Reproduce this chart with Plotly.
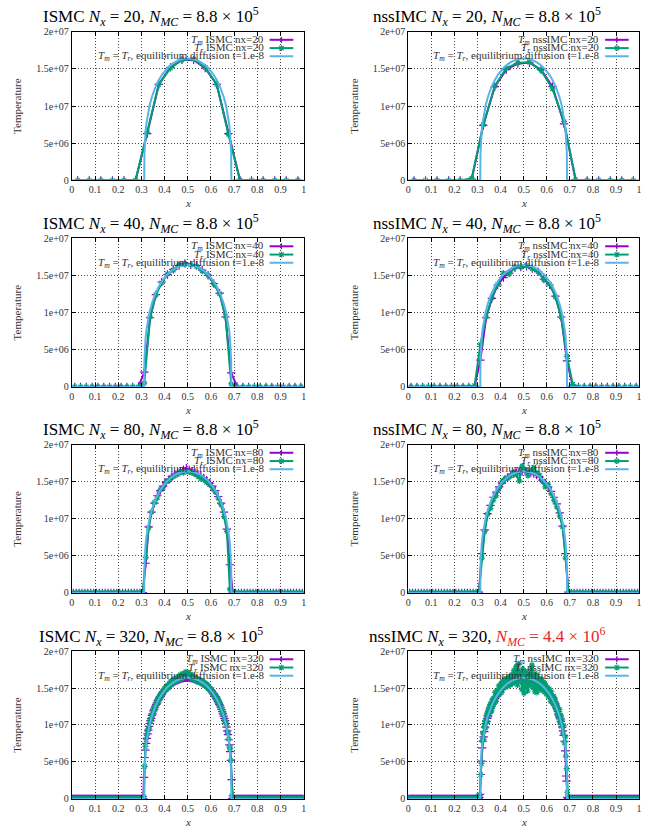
import plotly.graph_objects as go

# ---------------- data (temperatures in units of 1e6 K) ----------------
x20 = [0.025, 0.075, 0.125, 0.175, 0.225, 0.275, 0.325, 0.375, 0.425, 0.475,
       0.525, 0.575, 0.625, 0.675, 0.725, 0.775, 0.825, 0.875, 0.925, 0.975]
tm_ismc_20 = [0, 0, 0, 0, 0, 0.05, 6.3, 12.9, 15.2, 16.2, 16.2, 15.1, 12.9, 6.3, 0.05, 0, 0, 0, 0, 0]
tr_ismc_20 = [0, 0, 0, 0, 0, 0.05, 6.5, 12.9, 15.1, 16.2, 16.3, 15.2, 12.9, 6.2, 0.05, 0, 0, 0, 0, 0]
tm_nss_20 = [0, 0, 0, 0, 0, 0.15, 7.4, 12.6, 14.9, 15.7, 15.8, 14.9, 12.6, 7.6, 0.1, 0, 0, 0, 0, 0]
tr_nss_20 = [0, 0, 0, 0, 0, 0.3, 7.5, 12.7, 15.1, 15.8, 15.9, 14.8, 12.3, 7.9, 0.1, 0, 0, 0, 0, 0]

x40 = [0.0125, 0.0375, 0.0625, 0.0875, 0.1125, 0.1375, 0.1625, 0.1875, 0.2125, 0.2375,
       0.2625, 0.2875, 0.3125, 0.3375, 0.3625, 0.3875, 0.4125, 0.4375, 0.4625, 0.4875,
       0.5125, 0.5375, 0.5625, 0.5875, 0.6125, 0.6375, 0.6625, 0.6875, 0.7125, 0.7375,
       0.7625, 0.7875, 0.8125, 0.8375, 0.8625, 0.8875, 0.9125, 0.9375, 0.9625, 0.9875]
tm_ismc_40 = [0, 0, 0, 0, 0, 0, 0, 0, 0, 0, 0,
              0.05, 2.0, 9.3, 12.4, 14.1, 15.1, 15.8, 16.3, 16.6, 16.4, 16.3, 15.7, 15.0, 13.9, 12.6, 9.4, 1.9, 0.05,
              0, 0, 0, 0, 0, 0, 0, 0, 0, 0, 0]
tr_ismc_40 = [0, 0, 0, 0, 0, 0, 0, 0, 0, 0, 0,
              0.0, 0.5, 9.4, 12.4, 14.0, 15.2, 15.7, 16.4, 16.5, 16.4, 16.2, 15.6, 15.0, 13.8, 12.5, 9.5, 0.4, 0.0,
              0, 0, 0, 0, 0, 0, 0, 0, 0, 0, 0]
tm_nss_40 = [0, 0, 0, 0, 0, 0, 0, 0, 0, 0, 0,
             0.1, 3.6, 9.3, 11.9, 13.7, 14.7, 15.3, 16.0, 16.1, 16.2, 15.9, 15.5, 14.5, 13.7, 12.2, 9.4, 3.5, 0.1,
             0, 0, 0, 0, 0, 0, 0, 0, 0, 0, 0]
tr_nss_40 = [0, 0, 0, 0, 0, 0, 0, 0, 0, 0, 0,
             0.2, 5.7, 9.4, 12.0, 13.8, 15.3, 15.2, 16.1, 16.1, 16.3, 15.9, 15.5, 14.4, 13.8, 12.1, 9.4, 4.1, 0.35,
             0, 0, 0, 0, 0, 0, 0, 0, 0, 0, 0]

x80 = [0.00625, 0.01875, 0.03125, 0.04375, 0.05625, 0.06875, 0.08125, 0.09375, 0.10625, 0.11875,
       0.13125, 0.14375, 0.15625, 0.16875, 0.18125, 0.19375, 0.20625, 0.21875, 0.23125, 0.24375,
       0.25625, 0.26875, 0.28125, 0.29375, 0.30625, 0.31875, 0.33125, 0.34375, 0.35625, 0.36875,
       0.38125, 0.39375, 0.40625, 0.41875, 0.43125, 0.44375, 0.45625, 0.46875, 0.48125, 0.49375,
       0.50625, 0.51875, 0.53125, 0.54375, 0.55625, 0.56875, 0.58125, 0.59375, 0.60625, 0.61875,
       0.63125, 0.64375, 0.65625, 0.66875, 0.68125, 0.69375, 0.70625, 0.71875, 0.73125, 0.74375,
       0.75625, 0.76875, 0.78125, 0.79375, 0.80625, 0.81875, 0.83125, 0.84375, 0.85625, 0.86875,
       0.88125, 0.89375, 0.90625, 0.91875, 0.93125, 0.94375, 0.95625, 0.96875, 0.98125, 0.99375]
tm_ismc_80 = [0, 0, 0, 0, 0, 0, 0, 0, 0, 0, 0, 0, 0, 0, 0, 0, 0, 0, 0, 0, 0, 0, 0, 0,
              0.05, 4.0, 8.9, 10.9, 12.1, 13.1, 13.8, 14.4, 14.9, 15.3, 15.7, 16.0, 16.2, 16.4, 16.6, 16.8,
              16.6, 16.4, 16.2, 16.0, 15.8, 15.5, 15.2, 14.8, 14.4, 13.8, 13.0, 12.1, 10.9, 8.6, 3.8, 0.1,
              0, 0, 0, 0, 0, 0, 0, 0, 0, 0, 0, 0, 0, 0, 0, 0, 0, 0, 0, 0, 0, 0, 0, 0]
tr_ismc_80 = [0, 0, 0, 0, 0, 0, 0, 0, 0, 0, 0, 0, 0, 0, 0, 0, 0, 0, 0, 0, 0, 0, 0, 0,
              0.0, 4.8, 8.8, 10.9, 12.2, 12.8, 13.9, 14.2, 15.0, 15.2, 15.6, 15.8, 16.0, 16.3, 16.2, 16.4,
              16.3, 16.2, 16.0, 15.7, 15.4, 15.3, 14.9, 14.6, 14.2, 13.6, 12.8, 11.9, 10.3, 8.3, 0.5, 0.0,
              0, 0, 0, 0, 0, 0, 0, 0, 0, 0, 0, 0, 0, 0, 0, 0, 0, 0, 0, 0, 0, 0, 0, 0]
tm_nss_80 = [0, 0, 0, 0, 0, 0, 0, 0, 0, 0, 0, 0, 0, 0, 0, 0, 0, 0, 0, 0, 0, 0, 0, 0,
             0.1, 5.3, 8.5, 10.7, 11.8, 12.9, 13.6, 14.3, 14.8, 15.3, 15.6, 15.9, 16.1, 16.2, 16.3, 16.4,
             16.4, 16.3, 16.2, 16.1, 15.9, 15.6, 15.2, 14.8, 14.3, 13.7, 12.9, 12.0, 10.8, 9.0, 5.3, 0.1,
             0, 0, 0, 0, 0, 0, 0, 0, 0, 0, 0, 0, 0, 0, 0, 0, 0, 0, 0, 0, 0, 0, 0, 0]
tr_nss_80 = [0, 0, 0, 0, 0, 0, 0, 0, 0, 0, 0, 0, 0, 0, 0, 0, 0, 0, 0, 0, 0, 0, 0, 0,
             0.15, 4.7, 8.3, 10.6, 11.4, 12.5, 13.1, 14.1, 14.9, 15.4, 15.5, 15.8, 16.3, 15.9, 15.1, 17.1,
             16.6, 15.8, 16.5, 16.9, 16.2, 15.9, 15.1, 14.3, 14.6, 13.4, 12.5, 11.6, 10.4, 8.9, 4.7, 0.1,
             0, 0, 0, 0, 0, 0, 0, 0, 0, 0, 0, 0, 0, 0, 0, 0, 0, 0, 0, 0, 0, 0, 0, 0]

x320 = [0.00156, 0.00469, 0.00781, 0.01094, 0.01406, 0.01719, 0.02031, 0.02344,
        0.02656, 0.02969, 0.03281, 0.03594, 0.03906, 0.04219, 0.04531, 0.04844,
        0.05156, 0.05469, 0.05781, 0.06094, 0.06406, 0.06719, 0.07031, 0.07344,
        0.07656, 0.07969, 0.08281, 0.08594, 0.08906, 0.09219, 0.09531, 0.09844,
        0.10156, 0.10469, 0.10781, 0.11094, 0.11406, 0.11719, 0.12031, 0.12344,
        0.12656, 0.12969, 0.13281, 0.13594, 0.13906, 0.14219, 0.14531, 0.14844,
        0.15156, 0.15469, 0.15781, 0.16094, 0.16406, 0.16719, 0.17031, 0.17344,
        0.17656, 0.17969, 0.18281, 0.18594, 0.18906, 0.19219, 0.19531, 0.19844,
        0.20156, 0.20469, 0.20781, 0.21094, 0.21406, 0.21719, 0.22031, 0.22344,
        0.22656, 0.22969, 0.23281, 0.23594, 0.23906, 0.24219, 0.24531, 0.24844,
        0.25156, 0.25469, 0.25781, 0.26094, 0.26406, 0.26719, 0.27031, 0.27344,
        0.27656, 0.27969, 0.28281, 0.28594, 0.28906, 0.29219, 0.29531, 0.29844,
        0.30156, 0.30469, 0.30781, 0.31094, 0.31406, 0.31719, 0.32031, 0.32344,
        0.32656, 0.32969, 0.33281, 0.33594, 0.33906, 0.34219, 0.34531, 0.34844,
        0.35156, 0.35469, 0.35781, 0.36094, 0.36406, 0.36719, 0.37031, 0.37344,
        0.37656, 0.37969, 0.38281, 0.38594, 0.38906, 0.39219, 0.39531, 0.39844,
        0.40156, 0.40469, 0.40781, 0.41094, 0.41406, 0.41719, 0.42031, 0.42344,
        0.42656, 0.42969, 0.43281, 0.43594, 0.43906, 0.44219, 0.44531, 0.44844,
        0.45156, 0.45469, 0.45781, 0.46094, 0.46406, 0.46719, 0.47031, 0.47344,
        0.47656, 0.47969, 0.48281, 0.48594, 0.48906, 0.49219, 0.49531, 0.49844,
        0.50156, 0.50469, 0.50781, 0.51094, 0.51406, 0.51719, 0.52031, 0.52344,
        0.52656, 0.52969, 0.53281, 0.53594, 0.53906, 0.54219, 0.54531, 0.54844,
        0.55156, 0.55469, 0.55781, 0.56094, 0.56406, 0.56719, 0.57031, 0.57344,
        0.57656, 0.57969, 0.58281, 0.58594, 0.58906, 0.59219, 0.59531, 0.59844,
        0.60156, 0.60469, 0.60781, 0.61094, 0.61406, 0.61719, 0.62031, 0.62344,
        0.62656, 0.62969, 0.63281, 0.63594, 0.63906, 0.64219, 0.64531, 0.64844,
        0.65156, 0.65469, 0.65781, 0.66094, 0.66406, 0.66719, 0.67031, 0.67344,
        0.67656, 0.67969, 0.68281, 0.68594, 0.68906, 0.69219, 0.69531, 0.69844,
        0.70156, 0.70469, 0.70781, 0.71094, 0.71406, 0.71719, 0.72031, 0.72344,
        0.72656, 0.72969, 0.73281, 0.73594, 0.73906, 0.74219, 0.74531, 0.74844,
        0.75156, 0.75469, 0.75781, 0.76094, 0.76406, 0.76719, 0.77031, 0.77344,
        0.77656, 0.77969, 0.78281, 0.78594, 0.78906, 0.79219, 0.79531, 0.79844,
        0.80156, 0.80469, 0.80781, 0.81094, 0.81406, 0.81719, 0.82031, 0.82344,
        0.82656, 0.82969, 0.83281, 0.83594, 0.83906, 0.84219, 0.84531, 0.84844,
        0.85156, 0.85469, 0.85781, 0.86094, 0.86406, 0.86719, 0.87031, 0.87344,
        0.87656, 0.87969, 0.88281, 0.88594, 0.88906, 0.89219, 0.89531, 0.89844,
        0.90156, 0.90469, 0.90781, 0.91094, 0.91406, 0.91719, 0.92031, 0.92344,
        0.92656, 0.92969, 0.93281, 0.93594, 0.93906, 0.94219, 0.94531, 0.94844,
        0.95156, 0.95469, 0.95781, 0.96094, 0.96406, 0.96719, 0.97031, 0.97344,
        0.97656, 0.97969, 0.98281, 0.98594, 0.98906, 0.99219, 0.99531, 0.99844]

# the cold cells outside the wave (96 cells on each side) read as zero
flat_left_320 = [0, 0, 0, 0, 0, 0, 0, 0, 0, 0, 0, 0, 0, 0, 0, 0,
                 0, 0, 0, 0, 0, 0, 0, 0, 0, 0, 0, 0, 0, 0, 0, 0,
                 0, 0, 0, 0, 0, 0, 0, 0, 0, 0, 0, 0, 0, 0, 0, 0,
                 0, 0, 0, 0, 0, 0, 0, 0, 0, 0, 0, 0, 0, 0, 0, 0,
                 0, 0, 0, 0, 0, 0, 0, 0, 0, 0, 0, 0, 0, 0, 0, 0,
                 0, 0, 0, 0, 0, 0, 0, 0, 0, 0, 0, 0, 0, 0, 0, 0]
flat_right_320 = [0, 0, 0, 0, 0, 0, 0, 0, 0, 0, 0, 0, 0, 0, 0, 0,
                  0, 0, 0, 0, 0, 0, 0, 0, 0, 0, 0, 0, 0, 0, 0, 0,
                  0, 0, 0, 0, 0, 0, 0, 0, 0, 0, 0, 0, 0, 0, 0, 0,
                  0, 0, 0, 0, 0, 0, 0, 0, 0, 0, 0, 0, 0, 0, 0, 0,
                  0, 0, 0, 0, 0, 0, 0, 0, 0, 0, 0, 0, 0, 0, 0, 0,
                  0, 0, 0, 0, 0, 0, 0, 0, 0, 0, 0, 0, 0, 0, 0, 0]

tm_ismc_320_mid = [0.0, 0.0, 0.05, 2.9, 5.6, 6.6, 7.5, 8.2, 8.8, 9.3, 9.8, 10.2, 10.6, 10.9, 11.3, 11.5,
                   11.9, 12.1, 12.4, 12.6, 12.8, 13.0, 13.3, 13.4, 13.6, 13.8, 13.9, 14.1, 14.2, 14.4, 14.5, 14.6,
                   14.8, 14.9, 15.0, 15.1, 15.2, 15.3, 15.4, 15.4, 15.5, 15.6, 15.7, 15.8, 15.8, 15.9, 15.9, 16.0,
                   16.0, 16.1, 16.1, 16.2, 16.2, 16.2, 16.3, 16.3, 16.3, 16.3, 16.4, 16.4, 16.4, 16.4, 16.4, 16.4,
                   16.4, 16.5, 16.4, 16.4, 16.3, 16.4, 16.3, 16.3, 16.3, 16.2, 16.2, 16.2, 16.1, 16.1, 16.0, 16.0,
                   15.9, 15.9, 15.8, 15.8, 15.7, 15.6, 15.6, 15.5, 15.4, 15.3, 15.3, 15.2, 15.1, 15.0, 14.8, 14.7,
                   14.6, 14.5, 14.3, 14.2, 14.1, 13.9, 13.8, 13.6, 13.4, 13.2, 13.0, 12.8, 12.6, 12.4, 12.1, 11.8,
                   11.5, 11.2, 10.9, 10.6, 10.2, 9.7, 9.2, 8.7, 8.0, 7.3, 6.4, 5.2, 2.6, 0.05, 0.0, 0.0]
tr_ismc_320_mid = [0.0, 0.0, 0.0, 0.3, 4.4, 7.1, 8.0, 8.6, 9.1, 9.5, 9.6, 10.4, 10.8, 10.7, 11.4, 11.3,
                   12.1, 11.9, 12.5, 12.4, 13.0, 12.9, 13.5, 13.1, 13.8, 13.6, 14.1, 14.3, 14.0, 14.6, 14.4, 14.9,
                   14.7, 15.1, 14.8, 15.3, 15.4, 15.0, 15.6, 15.5, 15.9, 15.4, 15.8, 16.1, 15.7, 16.2, 15.9, 16.3,
                   16.1, 16.4, 15.9, 16.6, 16.3, 16.8, 16.2, 16.5, 16.9, 16.4, 17.0, 16.6, 16.8, 17.2, 16.7, 16.9,
                   17.1, 16.8, 16.6, 16.9, 16.5, 16.2, 16.7, 16.4, 16.1, 16.5, 16.0, 16.3, 15.9, 16.2, 15.8, 16.1,
                   15.9, 16.0, 15.7, 15.6, 15.9, 15.5, 15.4, 15.7, 15.3, 15.2, 15.5, 15.0, 14.9, 15.2, 14.7, 14.8,
                   14.5, 14.8, 14.2, 14.4, 14.0, 13.7, 14.0, 13.5, 13.3, 13.6, 12.9, 12.7, 13.0, 12.3, 12.1, 11.9,
                   11.4, 11.6, 10.8, 10.5, 10.4, 9.9, 9.1, 8.9, 8.1, 7.0, 6.8, 5.2, 0.4, 0.0, 0.0, 0.0]
tm_nss_320_mid = [0.0, 0.05, 0.2, 0.6, 3.3, 5.1, 6.9, 7.8, 8.4, 9.1, 9.7, 10.2, 10.5, 10.9, 11.2, 11.6,
                  11.8, 12.2, 12.3, 12.6, 12.8, 13.1, 13.2, 13.4, 13.6, 13.8, 13.9, 14.1, 14.2, 14.4, 14.5, 14.6,
                  14.8, 14.8, 15.0, 15.1, 15.2, 15.3, 15.3, 15.5, 15.5, 15.6, 15.7, 15.7, 15.8, 15.9, 15.9, 16.0,
                  16.0, 16.1, 16.1, 16.2, 16.2, 16.2, 16.3, 16.2, 16.3, 16.4, 16.3, 16.4, 16.4, 16.3, 16.4, 16.4,
                  16.4, 16.4, 16.3, 16.4, 16.3, 16.4, 16.3, 16.3, 16.2, 16.3, 16.2, 16.2, 16.1, 16.1, 16.0, 16.0,
                  15.9, 15.9, 15.9, 15.8, 15.7, 15.7, 15.6, 15.5, 15.4, 15.4, 15.3, 15.2, 15.1, 15.0, 14.8, 14.7,
                  14.6, 14.5, 14.3, 14.2, 14.1, 13.9, 13.8, 13.6, 13.4, 13.2, 13.0, 12.8, 12.6, 12.3, 12.1, 11.8,
                  11.5, 11.2, 10.9, 10.5, 10.1, 9.7, 9.2, 8.6, 7.8, 6.5, 3.1, 2.4, 0.2, 0.05, 0.0, 0.0]
tr_nss_320_mid = [0.1, 0.3, 0.6, 0.4, 3.3, 4.8, 7.9, 8.9, 8.1, 9.8, 10.6, 9.6, 11.3, 10.4, 11.9, 12.3,
                  11.3, 12.8, 12.6, 11.9, 13.4, 12.5, 13.6, 13.0, 14.4, 13.2, 14.6, 13.9, 14.1, 15.3, 14.2, 15.0,
                  15.6, 14.4, 15.9, 15.0, 15.4, 16.2, 15.1, 15.8, 16.3, 15.2, 16.0, 15.5, 16.6, 15.4, 16.1, 16.8,
                  15.6, 16.9, 17.4, 15.8, 16.3, 17.9, 16.6, 15.4, 18.3, 16.8, 17.2, 15.9, 16.5, 14.8, 17.6, 16.2,
                  14.3, 16.0, 17.3, 15.1, 16.7, 14.6, 15.9, 17.0, 16.2, 15.3, 17.5, 18.1, 16.4, 15.0, 16.9, 14.5,
                  15.6, 16.8, 14.4, 15.3, 16.3, 15.9, 14.9, 15.7, 16.2, 14.7, 15.1, 15.8, 14.5, 15.6, 15.2, 14.2,
                  15.1, 14.3, 13.8, 14.9, 13.9, 13.2, 14.5, 13.4, 12.9, 13.9, 12.6, 13.5, 12.2, 12.9, 11.4, 12.4,
                  11.0, 12.1, 10.4, 11.3, 9.8, 10.7, 8.9, 9.9, 7.6, 8.4, 5.8, 4.1, 0.9, 0.4, 0.2, 0.1]

tm_ismc_320 = flat_left_320 + tm_ismc_320_mid + flat_right_320
tr_ismc_320 = flat_left_320 + tr_ismc_320_mid + flat_right_320
tm_nss_320 = flat_left_320 + tm_nss_320_mid + flat_right_320
tr_nss_320 = flat_left_320 + tr_nss_320_mid + flat_right_320

# equilibrium diffusion reference curve (same in every panel)
diff_x = [0.0, 0.312, 0.313, 0.315, 0.318, 0.322, 0.327, 0.335, 0.345, 0.36, 0.375, 0.39,
          0.41, 0.43, 0.45, 0.47, 0.49, 0.5, 0.51, 0.53, 0.55, 0.57, 0.59, 0.61, 0.625,
          0.64, 0.655, 0.665, 0.673, 0.678, 0.682, 0.685, 0.687, 0.688, 1.0]
diff_T = [0, 0, 3.60, 5.19, 6.52, 7.70, 8.77, 10.04, 11.22, 12.52, 13.50, 14.26,
          15.04, 15.60, 16.00, 16.26, 16.38, 16.40, 16.38, 16.26, 16.00, 15.60, 15.04, 14.26, 13.50,
          12.52, 11.22, 10.04, 8.77, 7.70, 6.52, 5.19, 3.60, 0, 0]

x_tickvals = [0, 0.1, 0.2, 0.3, 0.4, 0.5, 0.6, 0.7, 0.8, 0.9, 1]
x_ticktext = ["0", "0.1", "0.2", "0.3", "0.4", "0.5", "0.6", "0.7", "0.8", "0.9", "1"]
y_tickvals = [0, 5, 10, 15, 20]
y_ticktext = ["0", "5e+06", "1e+07", "1.5e+07", "2e+07"]

panels = [
    ("ISMC", "20", x20, tm_ismc_20, tr_ismc_20, "8.8 × 10<sup>5</sup>", False),
    ("nssIMC", "20", x20, tm_nss_20, tr_nss_20, "8.8 × 10<sup>5</sup>", False),
    ("ISMC", "40", x40, tm_ismc_40, tr_ismc_40, "8.8 × 10<sup>5</sup>", False),
    ("nssIMC", "40", x40, tm_nss_40, tr_nss_40, "8.8 × 10<sup>5</sup>", False),
    ("ISMC", "80", x80, tm_ismc_80, tr_ismc_80, "8.8 × 10<sup>5</sup>", False),
    ("nssIMC", "80", x80, tm_nss_80, tr_nss_80, "8.8 × 10<sup>5</sup>", False),
    ("ISMC", "320", x320, tm_ismc_320, tr_ismc_320, "8.8 × 10<sup>5</sup>", False),
    ("nssIMC", "320", x320, tm_nss_320, tr_nss_320, "4.4 × 10<sup>6</sup>", True),
]

# ---------------- styling ----------------
W, H = 652, 833
FONT = "Liberation Serif"
PURPLE = "#9400d3"
TEAL = "#009e73"
BLUE = "#56b4e9"
RED = "#e8262a"

col_px = [(69.5, 303.5), (409.0, 642.0)]
row_px = [(26.0, 177.0), (235.5, 386.5), (445.0, 595.5), (654.5, 804.5)]
title_cx = [149.0, 488.0]
ylab_cx = [14.0, 354.0]

fig = go.Figure()
layout = dict(
    width=W, height=H, margin=dict(l=0, r=0, t=0, b=0),
    paper_bgcolor="white", plot_bgcolor="white", showlegend=False,
    font=dict(family=FONT, size=10, color="#222"),
)
annotations = []
shapes = []

for n, (meth, nx, xs, tm, tr, nmc, red) in enumerate(panels):
    r, c = divmod(n, 2)
    xa = "x" if n == 0 else f"x{n + 1}"
    ya = "y" if n == 0 else f"y{n + 1}"
    xk = "xaxis" if n == 0 else f"xaxis{n + 1}"
    yk = "yaxis" if n == 0 else f"yaxis{n + 1}"
    x0p, x1p = col_px[c]
    t0p, b0p = row_px[r]

    common = dict(showline=True, linecolor="black", linewidth=1, mirror="ticks",
                  ticks="inside", ticklen=4, tickcolor="black", tickwidth=1,
                  showgrid=True, gridcolor="#444", griddash="1px,2px", gridwidth=1,
                  zeroline=False, tickfont=dict(family=FONT, size=10, color="#333"),
                  fixedrange=True)
    layout[xk] = dict(common, domain=[x0p / W, x1p / W], anchor=ya, range=[0, 1],
                      tickmode="array", tickvals=x_tickvals, ticktext=x_ticktext)
    layout[yk] = dict(common, domain=[1 - b0p / H, 1 - t0p / H], anchor=xa, range=[0, 20],
                      tickmode="array", tickvals=y_tickvals, ticktext=y_ticktext)

    fig.add_trace(go.Scatter(
        x=xs, y=tm, mode="lines+markers", xaxis=xa, yaxis=ya, cliponaxis=True,
        line=dict(color=PURPLE, width=2),
        marker=dict(symbol="cross-thin-open", size=6, color=PURPLE, line=dict(color=PURPLE, width=1.2))))
    fig.add_trace(go.Scatter(
        x=xs, y=tr, mode="lines+markers", xaxis=xa, yaxis=ya, cliponaxis=True,
        line=dict(color=TEAL, width=2),
        marker=dict(symbol="asterisk-open", size=5, color=TEAL, line=dict(color=TEAL, width=1.2))))
    fig.add_trace(go.Scatter(
        x=diff_x, y=diff_T, mode="lines", xaxis=xa, yaxis=ya,
        line=dict(color=BLUE, width=2)))

    # title
    part2 = f"<i>N</i><sub><i>MC</i></sub> = {nmc}"
    if red:
        part2 = f"<span style='color:{RED}'>{part2}</span>"
    title = f"{meth} <i>N</i><sub><i>x</i></sub> = {nx}, " + part2
    annotations.append(dict(text=title, xref="paper", yref="paper",
                            x=title_cx[c] / W, y=1 - (t0p - 15) / H,
                            xanchor="center", yanchor="middle", showarrow=False,
                            font=dict(family=FONT, size=17, color="black")))
    # axis titles
    annotations.append(dict(text="Temperature", xref="paper", yref="paper",
                            x=ylab_cx[c] / W, y=1 - (t0p + b0p) / 2 / H, textangle=-90,
                            xanchor="center", yanchor="middle", showarrow=False,
                            font=dict(family=FONT, size=11, color="#333")))
    annotations.append(dict(text="<i>x</i>", xref="paper", yref="paper",
                            x=(x0p + x1p) / 2 / W, y=1 - (b0p + 23) / H,
                            xanchor="center", yanchor="middle", showarrow=False,
                            font=dict(family=FONT, size=11, color="#333")))

    # gnuplot-style key: text right-aligned, sample to its right
    xd, yd = f"{xa} domain", f"{ya} domain"
    wpx, hpx = x1p - x0p, b0p - t0p
    tx = 0.836
    sx0, sx1, sxm = 0.853, 0.955, 0.904
    rows_y = [1 - 8.3 / hpx, 1 - 16.7 / hpx, 1 - 25.0 / hpx]
    labels = [f"<i>T<sub>m</sub></i> {meth} nx={nx}",
              f"<i>T<sub>r</sub></i> {meth} nx={nx}",
              "<i>T<sub>m</sub></i> = <i>T<sub>r</sub></i>, equilibrium diffusion t=1.e-8"]
    colors = [PURPLE, TEAL, BLUE]
    mx, my = 3.0 / wpx, 3.0 / hpx
    for k in range(3):
        yy = rows_y[k]
        annotations.append(dict(text=labels[k], xref=xd, yref=yd, x=tx, y=yy,
                                xanchor="right", yanchor="middle", showarrow=False,
                                font=dict(family=FONT, size=11, color="#333")))
        shapes.append(dict(type="line", xref=xd, yref=yd, x0=sx0, x1=sx1, y0=yy, y1=yy,
                           line=dict(color=colors[k], width=2)))
        if k == 0:
            shapes.append(dict(type="line", xref=xd, yref=yd, x0=sxm, x1=sxm,
                               y0=yy - my, y1=yy + my, line=dict(color=PURPLE, width=1.2)))
        elif k == 1:
            shapes.append(dict(type="line", xref=xd, yref=yd, x0=sxm, x1=sxm,
                               y0=yy - my, y1=yy + my, line=dict(color=TEAL, width=1.2)))
            shapes.append(dict(type="line", xref=xd, yref=yd, x0=sxm - 0.75 * mx, x1=sxm + 0.75 * mx,
                               y0=yy - 0.75 * my, y1=yy + 0.75 * my, line=dict(color=TEAL, width=1.2)))
            shapes.append(dict(type="line", xref=xd, yref=yd, x0=sxm - 0.75 * mx, x1=sxm + 0.75 * mx,
                               y0=yy + 0.75 * my, y1=yy - 0.75 * my, line=dict(color=TEAL, width=1.2)))

layout["annotations"] = annotations
layout["shapes"] = shapes
fig.update_layout(**layout)
fig.write_html("out.html")
